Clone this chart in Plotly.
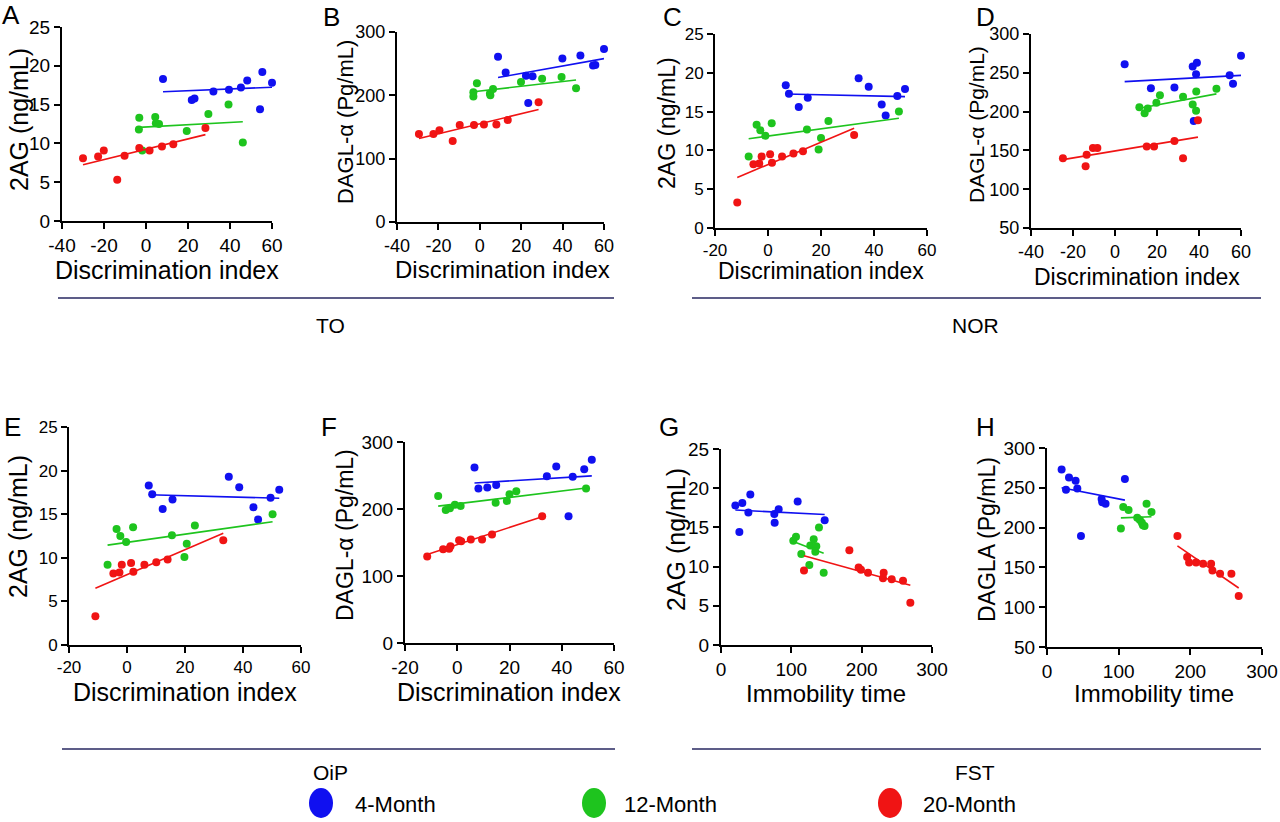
import numpy as np
import plotly.graph_objects as go

W, H = 1280, 822
FONT = "Liberation Sans, Arial, sans-serif"

groups = ["4-Month", "12-Month", "20-Month"]
colors = ["#1010f0", "#1ec41e", "#f01414"]

# A - TO, 2AG
a4x = [8.1, 21.8, 23.1, 32.1, 39.5, 45.2, 48.2, 55.4, 54.3, 60.0]
a4y = [18.3, 15.6, 15.8, 16.7, 16.9, 17.2, 18.1, 19.2, 14.4, 17.8]
a12x = [-3.2, -3.4, -1.8, 4.4, 4.7, 6.2, 19.4, 29.7, 39.3, 46.1]
a12y = [13.3, 11.8, 9.1, 13.4, 12.6, 12.5, 11.6, 13.8, 15.0, 10.1]
a20x = [-30.0, -22.8, -20.1, -13.7, -10.2, -3.2, 1.7, 7.6, 13.0, 28.3]
a20y = [8.1, 8.3, 9.1, 5.3, 8.4, 9.4, 9.1, 9.6, 9.9, 12.0]

# B - TO, DAGL-a
b4x = [8.8, 12.5, 22.3, 25.5, 23.4, 39.9, 48.6, 54.7, 55.8, 60.0]
b4y = [261, 236, 231, 230, 188, 258, 263, 247, 248, 273]
b12x = [-3.1, -3.1, -1.4, 4.9, 5.1, 6.4, 19.9, 30.1, 39.5, 46.5]
b12y = [205, 198, 219, 203, 200, 210, 221, 226, 229, 211]
b20x = [-29.4, -22.4, -19.5, -13.1, -9.7, -2.8, 2.0, 8.0, 13.5, 28.4]
b20y = [139, 139, 145, 128, 153, 153, 154, 154, 161, 189]

# C - NOR, 2AG
c4x = [6.7, 7.9, 11.6, 15.0, 34.2, 38.0, 42.9, 44.4, 48.8, 51.7]
c4y = [18.4, 17.3, 15.6, 16.8, 19.3, 18.2, 15.9, 14.5, 17.0, 17.9]
c12x = [-7.3, -4.3, -2.9, -1.0, 1.4, 14.7, 20.0, 19.1, 22.8, 49.4]
c12y = [9.2, 13.3, 12.6, 11.9, 13.5, 12.7, 11.6, 10.1, 13.8, 15.0]
c20x = [-11.6, -5.5, -3.3, -2.4, 0.8, 1.5, 5.3, 9.6, 13.2, 32.5]
c20y = [3.3, 8.2, 8.3, 9.2, 9.5, 8.4, 9.2, 9.6, 9.9, 12.0]

# D - NOR, DAGL-a
d4x = [4.6, 17.1, 28.3, 37.0, 39.0, 38.6, 37.5, 54.6, 56.2, 60.0]
d4y = [261, 230, 231, 258, 263, 248, 188, 247, 236, 272]
d12x = [11.6, 14.1, 15.6, 19.7, 21.4, 32.4, 37.0, 38.6, 38.7, 48.3]
d12y = [205.5, 198, 204, 211.5, 221, 219, 209, 201, 226, 229.5]
d20x = [-24.8, -13.5, -14.0, -10.5, -8.4, 15.1, 18.6, 28.3, 32.4, 39.5]
d20y = [140, 144.5, 129.5, 153, 153, 155, 155, 162, 140, 189]

# E - OiP, 2AG
e4x = [7.5, 8.7, 12.3, 15.7, 35.1, 38.7, 43.6, 45.2, 49.5, 52.5]
e4y = [18.3, 17.3, 15.6, 16.7, 19.3, 18.1, 15.8, 14.4, 16.9, 17.8]
e12x = [-6.7, -3.6, -2.3, -0.3, 2.1, 15.5, 20.6, 19.8, 23.4, 50.2]
e12y = [9.2, 13.3, 12.5, 11.8, 13.5, 12.6, 11.6, 10.1, 13.7, 15.0]
e20x = [-10.9, -4.7, -2.6, -1.8, 1.4, 2.2, 6.0, 10.1, 14.0, 33.2]
e20y = [3.3, 8.2, 8.3, 9.2, 9.4, 8.4, 9.2, 9.5, 9.8, 12.0]

# F - OiP, DAGL-a
f4x = [6.6, 8.1, 11.5, 14.9, 34.3, 37.9, 44.2, 42.6, 48.6, 51.5]
f4y = [262, 230.5, 232, 236, 249, 263.5, 248, 189, 259.5, 273.5]
f12x = [-7.3, -4.4, -2.8, -0.9, 1.3, 14.7, 19.0, 20.0, 22.6, 49.3]
f12y = [219.5, 198.5, 201, 206.5, 204.5, 209.5, 212, 222, 226.5, 230.5]
f20x = [-11.5, -5.4, -3.1, -2.6, 0.7, 1.5, 5.2, 9.5, 13.3, 32.5]
f20y = [129, 140, 140.5, 144.5, 153.5, 152, 154.5, 154.5, 162, 189]

# G - FST, 2AG
g4x = [20.4, 26.1, 30.3, 38.9, 41.7, 75.8, 76.3, 82.0, 109.0, 147.4]
g4y = [17.8, 14.4, 18.1, 16.9, 19.2, 16.7, 15.6, 17.3, 18.3, 15.9]
g12x = [102.8, 106.6, 114.2, 125.6, 127.0, 131.8, 135.5, 134.1, 139.3, 146.0]
g12y = [13.3, 13.8, 11.6, 10.2, 12.7, 13.5, 12.6, 11.9, 15.0, 9.2]
g20x = [118.0, 182.5, 195.7, 199.0, 209.0, 231.3, 230.3, 242.7, 258.8, 269.2]
g20y = [9.5, 12.1, 9.9, 9.6, 9.2, 9.2, 8.5, 8.4, 8.2, 5.4]

# H - FST, DAGLA
h4x = [20.4, 26.5, 30.7, 39.9, 42.3, 47.4, 76.2, 77.1, 81.7, 108.7]
h4y = [273, 247.5, 263, 259, 249, 189.5, 236, 232, 230, 261]
h12x = [103.1, 106.4, 113.8, 125.9, 129.6, 132.4, 133.8, 136.1, 138.9, 145.8]
h12y = [199, 226, 222, 212.5, 209.5, 206, 203, 202, 230, 219.5]
h20x = [182.0, 195.5, 198.3, 208.0, 217.8, 229.0, 230.8, 241.5, 257.3, 267.5]
h20y = [189.5, 163, 156, 156, 154.5, 154.5, 146, 142, 142, 114]

di_title = "Discrimination index"
im_title = "Immobility time"
ag_title = "2AG (ng/mL)"
dg_title = "DAGL-α (Pg/mL)"

# letter, data, x range/ticks, y range/ticks, box (px: x0,x1,ytop,ybottom), titles, fonts, label spots
panels = [
    dict(letter="A", data=[(a4x, a4y), (a12x, a12y), (a20x, a20y)],
         xr=[-40, 60], xt=[-40, -20, 0, 20, 40, 60], yr=[0, 25], yt=[0, 5, 10, 15, 20, 25],
         box=(62, 272, 27, 221), xt_t=di_title, yt_t=ag_title, tf=19, xf=25, yf=25,
         xtpos=(167, 270), ytpos=(19, 120), lpos=(11, 15)),
    dict(letter="B", data=[(b4x, b4y), (b12x, b12y), (b20x, b20y)],
         xr=[-40, 60], xt=[-40, -20, 0, 20, 40, 60], yr=[0, 300], yt=[0, 100, 200, 300],
         box=(397, 604, 32, 222), xt_t=di_title, yt_t=dg_title, tf=18, xf=24, yf=22,
         xtpos=(502, 270), ytpos=(345, 122), lpos=(331, 17)),
    dict(letter="C", data=[(c4x, c4y), (c12x, c12y), (c20x, c20y)],
         xr=[-20, 60], xt=[-20, 0, 20, 40, 60], yr=[0, 25], yt=[0, 5, 10, 15, 20, 25],
         box=(715, 927, 34, 228), xt_t=di_title, yt_t=ag_title, tf=17, xf=23, yf=23,
         xtpos=(821, 271), ytpos=(667, 123), lpos=(672, 17)),
    dict(letter="D", data=[(d4x, d4y), (d12x, d12y), (d20x, d20y)],
         xr=[-40, 60], xt=[-40, -20, 0, 20, 40, 60], yr=[50, 300], yt=[50, 100, 150, 200, 250, 300],
         box=(1031, 1241, 34, 228), xt_t=di_title, yt_t=dg_title, tf=18, xf=23, yf=21,
         xtpos=(1137, 277), ytpos=(977, 125), lpos=(985, 17)),
    dict(letter="E", data=[(e4x, e4y), (e12x, e12y), (e20x, e20y)],
         xr=[-20, 60], xt=[-20, 0, 20, 40, 60], yr=[0, 25], yt=[0, 5, 10, 15, 20, 25],
         box=(69, 301, 427, 645), xt_t=di_title, yt_t=ag_title, tf=17, xf=25, yf=25,
         xtpos=(185, 692), ytpos=(18, 527), lpos=(12, 427)),
    dict(letter="F", data=[(f4x, f4y), (f12x, f12y), (f20x, f20y)],
         xr=[-20, 60], xt=[-20, 0, 20, 40, 60], yr=[0, 300], yt=[0, 100, 200, 300],
         box=(405, 614, 442, 643), xt_t=di_title, yt_t=dg_title, tf=19, xf=25, yf=23,
         xtpos=(509, 692), ytpos=(345, 535), lpos=(329, 427)),
    dict(letter="G", data=[(g4x, g4y), (g12x, g12y), (g20x, g20y)],
         xr=[0, 300], xt=[0, 100, 200, 300], yr=[0, 25], yt=[0, 5, 10, 15, 20, 25],
         box=(721, 932, 449, 645), xt_t=im_title, yt_t=ag_title, tf=19, xf=24, yf=25,
         xtpos=(826, 693), ytpos=(676, 540), lpos=(669, 427)),
    dict(letter="H", data=[(h4x, h4y), (h12x, h12y), (h20x, h20y)],
         xr=[0, 300], xt=[0, 100, 200, 300], yr=[50, 300], yt=[50, 100, 150, 200, 250, 300],
         box=(1047, 1262, 448, 647), xt_t=im_title, yt_t="DAGLA (Pg/mL)", tf=19, xf=24, yf=23,
         xtpos=(1154, 693), ytpos=(987, 540), lpos=(985, 427)),
]

# section labels below each pair of panels
sections = [("TO", 58, 614, 298, 330, 325), ("NOR", 692, 1261, 298, 975, 325),
            ("OiP", 62, 615, 749, 330, 772), ("FST", 692, 1261, 749, 975, 772)]


def px(x):
    return x / W


def py(y):
    return 1 - y / H


fig = go.Figure()
annotations = []
shapes = []

for i, p in enumerate(panels):
    n = "" if i == 0 else str(i + 1)
    xa, ya = "x" + n, "y" + n
    for (xs, ys), name, col in zip(p["data"], groups, colors):
        fig.add_trace(go.Scatter(x=xs, y=ys, mode="markers", name=name, showlegend=False,
                                 marker=dict(color=col, size=8), cliponaxis=False,
                                 xaxis=xa, yaxis=ya))
        k, b = np.polyfit(xs, ys, 1)
        lx = np.array([min(xs), max(xs)])
        fig.add_trace(go.Scatter(x=lx, y=k * lx + b, mode="lines", showlegend=False,
                                 line=dict(color=col, width=1.6), cliponaxis=False,
                                 xaxis=xa, yaxis=ya))
    x0, x1, yt, yb = p["box"]
    common = dict(showline=True, linecolor="black", linewidth=2, ticks="outside",
                  ticklen=6, tickwidth=2, tickcolor="black", showgrid=False,
                  zeroline=False, fixedrange=True, automargin=False,
                  tickfont=dict(family=FONT, size=p["tf"], color="black"))
    # plain hyphen for negatives, as in the original figure
    fig.layout["xaxis" + n] = dict(domain=[px(x0), px(x1)], range=p["xr"], tickvals=p["xt"],
                                   ticktext=[str(v) for v in p["xt"]], anchor=ya, **common)
    fig.layout["yaxis" + n] = dict(domain=[py(yb), py(yt)], range=p["yr"], tickvals=p["yt"],
                                   ticktext=[str(v) for v in p["yt"]], anchor=xa, **common)
    annotations.append(dict(text=p["xt_t"], x=px(p["xtpos"][0]), y=py(p["xtpos"][1]),
                            font=dict(family=FONT, size=p["xf"], color="black")))
    annotations.append(dict(text=p["yt_t"], x=px(p["ytpos"][0]), y=py(p["ytpos"][1]),
                            textangle=-90, font=dict(family=FONT, size=p["yf"], color="black")))
    annotations.append(dict(text=p["letter"], x=px(p["lpos"][0]), y=py(p["lpos"][1]),
                            font=dict(family=FONT, size=26, color="black")))

for label, lx0, lx1, ly, tx, ty in sections:
    shapes.append(dict(type="line", xref="paper", yref="paper", x0=px(lx0), x1=px(lx1),
                       y0=py(ly), y1=py(ly), line=dict(color="#5d5d88", width=2)))
    annotations.append(dict(text=label, x=px(tx), y=py(ty),
                            font=dict(family=FONT, size=21, color="black")))

# legend row
legend_spots = [(321, 353), (594, 622), (890, 921)]
for (cx, tx), name, col in zip(legend_spots, groups, colors):
    shapes.append(dict(type="circle", xref="paper", yref="paper", fillcolor=col,
                       line=dict(width=0), x0=px(cx - 12), x1=px(cx + 12),
                       y0=py(803 + 15), y1=py(803 - 15)))
    annotations.append(dict(text=name, x=px(tx), y=py(804), xanchor="left",
                            font=dict(family=FONT, size=22, color="black")))

for a in annotations:
    a.setdefault("xref", "paper")
    a.setdefault("yref", "paper")
    a.setdefault("showarrow", False)
    a.setdefault("xanchor", "center")
    a.setdefault("yanchor", "middle")

fig.update_layout(width=W, height=H, margin=dict(l=0, r=0, t=0, b=0, autoexpand=False),
                  paper_bgcolor="white", plot_bgcolor="white", showlegend=False,
                  annotations=annotations, shapes=shapes)

# the page body has a default 8px margin; drop it so the figure sits at the window corner
fig.write_html("out.html", config={"displayModeBar": False},
               post_script="document.body.style.margin='0px';")
